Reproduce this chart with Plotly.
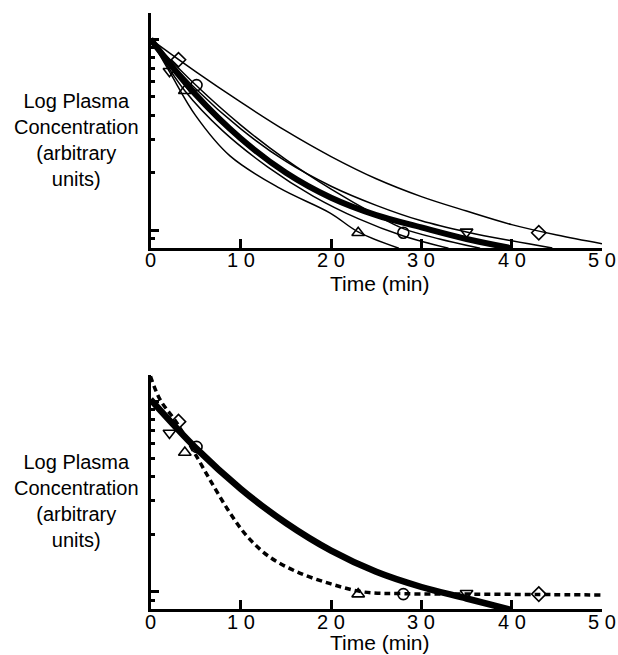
import plotly.graph_objects as go

# ---------------- data ----------------
# Top panel: individual thin fitted curves (time in min, concentration arbitrary units)
curveA_t = [0, 5, 10, 15, 20, 25, 30, 35, 40, 45, 50]
curveA_c = [10, 6.76, 4.68, 3.31, 2.43, 1.86, 1.50, 1.26, 1.07, 0.944, 0.85]
curveB_t = [0, 2.1, 5, 8.8, 14.3, 19.9, 23, 27.5]
curveB_c = [10, 6.76, 3.98, 2.45, 1.66, 1.23, 0.98, 0.805]
curveC_t = [0, 3.8, 8, 13, 18, 23, 28, 33]
curveC_c = [10, 5.37, 3.31, 2.14, 1.51, 1.15, 0.933, 0.805]
curveD_t = [0, 5.1, 10, 15, 20, 25, 28, 32, 36.5]
curveD_c = [10, 5.7, 3.55, 2.34, 1.64, 1.20, 1.02, 0.9, 0.805]
curveE_t = [0, 5, 10, 15, 20, 25, 30, 35, 40, 44.5]
curveE_c = [10, 5.5, 3.39, 2.29, 1.70, 1.35, 1.12, 0.98, 0.88, 0.807]
# Top panel: thick mean curve
thickTop_t = [0, 5, 10, 15, 20, 25, 30, 35, 40]
thickTop_c = [10, 5.13, 3.02, 2.0, 1.48, 1.2, 1.035, 0.90, 0.805]

# Bottom panel
thickBot_t = [0, 5, 10, 15, 20, 25, 30, 35, 40]
thickBot_c = [10.2, 5.68, 3.46, 2.29, 1.64, 1.27, 1.057, 0.92, 0.80]
dashBot_t = [0, 1.05, 2.9, 5.1, 7, 8.8, 10.7, 13.1, 16.2, 19.9, 23.6, 28, 35, 43, 50]
dashBot_c = [13.5, 10.2, 7.7, 5.13, 3.57, 2.59, 1.95, 1.53, 1.27, 1.10, 0.995, 0.975, 0.97, 0.965, 0.96]

# Data points (same in both panels)
diamond_t = [3.1, 43]
diamond_c = [7.8, 0.97]
trid_t = [2.1, 35]
trid_c = [6.8, 0.98]
triu_t = [3.8, 23]
triu_c = [5.37, 0.97]
circ_t = [5.1, 28]
circ_c = [5.75, 0.97]

x_tickvals = [0, 10, 20, 30, 40, 50]
x_ticktext = ["0", "1 0", "2 0", "3 0", "4 0", "5 0"]
y_major = [1, 10]
y_minor = [0.9, 2, 3, 4, 5, 6, 7, 8, 9]

FONT = "Liberation Sans, Arial, Helvetica, sans-serif"

fig = go.Figure()

def line(t, c, xa, ya, width, dash=None):
    fig.add_trace(go.Scatter(
        x=t, y=c, mode="lines", xaxis=xa, yaxis=ya,
        line=dict(color="black", width=width, shape="spline", smoothing=1.0,
                  dash=dash if dash else "solid"),
        hoverinfo="skip", showlegend=False))

def markers(xa, ya):
    for t, c, sym in [(diamond_t, diamond_c, "diamond-open"),
                      (trid_t, trid_c, "triangle-down-open"),
                      (triu_t, triu_c, "triangle-up-open"),
                      (circ_t, circ_c, "circle-open")]:
        fig.add_trace(go.Scatter(
            x=t, y=c, mode="markers", xaxis=xa, yaxis=ya,
            marker=dict(symbol=sym, size=11, color="black", line=dict(width=1.6, color="black")),
            hoverinfo="skip", showlegend=False, cliponaxis=False))

# top
for t, c in [(curveA_t, curveA_c), (curveB_t, curveB_c), (curveC_t, curveC_c),
             (curveD_t, curveD_c), (curveE_t, curveE_c)]:
    line(t, c, "x", "y", 1.5)
line(thickTop_t, thickTop_c, "x", "y", 6)
markers("x", "y")

# bottom
line(dashBot_t, dashBot_c, "x2", "y2", 3.5, dash="6px,4px")
line(thickBot_t, thickBot_c, "x2", "y2", 6.5)
markers("x2", "y2")

xdom = [150.5 / 618, 602 / 618]
yr = [-0.093, 1.137]

def xaxis(anchor):
    return dict(domain=xdom, range=[0, 50], anchor=anchor, showline=True, linecolor="black",
                linewidth=3, ticks="inside", ticklen=9, tickwidth=2.5, tickcolor="black",
                tickvals=x_tickvals, showticklabels=False, showgrid=False, zeroline=False)

def yaxis(dom, anchor):
    return dict(domain=dom, type="log", range=yr, anchor=anchor, showline=True,
                linecolor="black", linewidth=3, ticks="inside", ticklen=8, tickwidth=3,
                tickcolor="black", tickvals=y_major, showticklabels=False,
                showgrid=False, zeroline=False,
                minor=dict(tickvals=y_minor, ticks="inside", ticklen=4, tickwidth=2.5,
                           tickcolor="black", showgrid=False))

fig.update_layout(
    width=618, height=655, margin=dict(l=0, r=0, t=0, b=0),
    paper_bgcolor="white", plot_bgcolor="white", showlegend=False,
    xaxis=xaxis("y"), yaxis=yaxis([1 - 248 / 655, 1 - 13 / 655], "x"),
    xaxis2=xaxis("y2"), yaxis2=yaxis([1 - 609.3 / 655, 1 - 375 / 655], "x2"),
)

# x tick labels placed at the axis tick values
for xref, ypx in [("x", 260), ("x2", 621.5)]:
    for v, txt in zip(x_tickvals, x_ticktext):
        fig.add_annotation(text=txt, x=v, y=1 - ypx / 655, xref=xref, yref="paper",
                           showarrow=False, xanchor="center", yanchor="middle",
                           font=dict(family=FONT, size=20, color="black"))

ylab = "Log Plasma<br>Concentration<br>(arbitrary<br>units)"
for yc in [1 - 139.5 / 655, 1 - 501 / 655]:
    fig.add_annotation(text=ylab, x=76.7 / 618, y=yc, xref="paper", yref="paper",
                       showarrow=False, align="center", xanchor="center", yanchor="middle",
                       font=dict(family=FONT, size=20, color="black"))
for yc in [1 - 283 / 655, 1 - 642 / 655]:
    fig.add_annotation(text="Time (min)", x=380 / 618, y=yc, xref="paper", yref="paper",
                       showarrow=False, xanchor="center", yanchor="middle",
                       font=dict(family=FONT, size=21, color="black"))

fig.write_html("out.html", config={"displayModeBar": False},
               post_script="document.body.style.margin='0';")
